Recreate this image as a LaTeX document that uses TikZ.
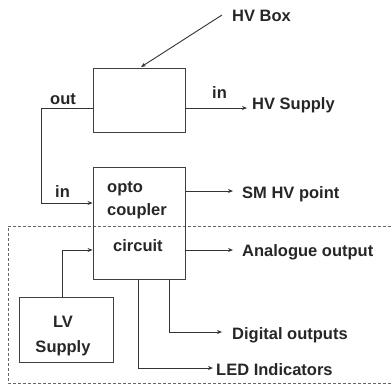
\documentclass[tikz,border=0pt]{standalone}
\usepackage{fontspec}
\setmainfont{Liberation Sans}
\usetikzlibrary{arrows.meta}
\begin{document}
\begin{tikzpicture}[x=1pt,y=-1pt,
  line/.style={draw=black!80,line width=0.9pt},
  arr/.style={line,-{Stealth[length=5pt,width=4pt]}},
  blk/.style={draw=black!75,line width=0.9pt,rectangle,inner sep=0pt},
  txt/.style={inner sep=0pt,text=black!85,font=\fontsize{16.5}{20}\selectfont\bfseries},
  lbl/.style={txt,anchor=base west},
  dashbox/.style={draw=black!60,line width=0.7pt,dash pattern=on 3pt off 2pt}]
\useasboundingbox (0,0) rectangle (391,389);
% dashed region (open on the right)
\draw[dashbox] (391,226) -- (8,226) -- (8,383) -- (391,383);
% blocks
\node[blk,minimum width=92pt,minimum height=64pt] (hv) at (139,100) {};
\node[blk,minimum width=92pt,minimum height=112pt] (opto) at (139,223) {};
\node[blk,minimum width=94pt,minimum height=65pt] (lv) at (66,329.5) {};
% texts
\node[lbl] (thvbox) at (232,21) {HV Box};
\node[lbl] (tin1) at (212,98) {in};
\node[lbl] (thvsup) at (252,109) {HV Supply};
\node[lbl] (tout) at (50,104) {out};
\node[lbl] (tin2) at (55,197) {in};
\node[lbl] (topto) at (107,192) {opto};
\node[lbl] (tcoup) at (107,215) {coupler};
\node[lbl] (tcirc) at (113,251) {circuit};
\node[lbl] (tsm) at (242,198) {SM HV point};
\node[lbl] (tana) at (242,256) {Analogue output};
\node[lbl] (tdig) at (232,339) {Digital outputs};
\node[lbl] (tled) at (216,375) {LED Indicators};
\node[txt,anchor=base] (tlv) at (63,327) {LV};
\node[txt,anchor=base] (tsupply) at (63,352) {Supply};
% coordinates
\coordinate (hvtail) at (222,15);
\coordinate (hvtip) at (141,67);
\coordinate (c1) at (41,108);
\coordinate (c2) at (41,203);
\coordinate (lvup) at (62,250);
\coordinate (d1) at (169,332);
\coordinate (l1) at (138,368);
% connectors
\draw[arr] (hvtail) -- (hvtip);
\draw[arr] (hv.east |- 0,108) -- (247,108);
\draw[line] (hv.west |- 0,108) -- (c1);
\draw[arr] (c1) -- (c2) -- (opto.west |- c2);
\draw[arr] (opto.east |- 0,191) -- (233,191);
\draw[arr] (opto.east |- 0,250) -- (233,250);
\draw[arr] (lv.north -| lvup) -- (lvup) -- (opto.west |- lvup);
\draw[arr] (opto.south -| d1) -- (d1) -- (222,332);
\draw[arr] (opto.south -| l1) -- (l1) -- (213,368);
\end{tikzpicture}
\end{document}
